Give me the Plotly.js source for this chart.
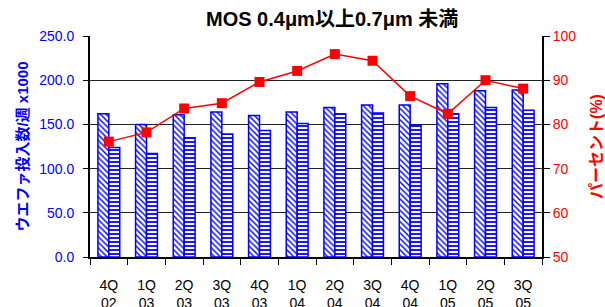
<!DOCTYPE html>
<html>
<head>
<meta charset="utf-8">
<script src="https://cdn.plot.ly/plotly-3.0.1.min.js"></script>
<style>html,body{margin:0;padding:0;background:#fff;}#chart{width:605px;height:307px;}</style>
</head>
<body>
<div id="chart"></div>
<script>
const categories = ["4Q<br>02","1Q<br>03","2Q<br>03","3Q<br>03","4Q<br>03","1Q<br>04","2Q<br>04","3Q<br>04","4Q<br>04","1Q<br>05","2Q<br>05","3Q<br>05"];
const seriesA = [162, 150, 161, 164, 160, 164, 169, 172, 172, 196, 188, 189];
const seriesB = [124, 117, 135, 139, 143, 151, 162, 163, 149, 162, 169, 166];
const percent = [76.1, 78.2, 83.6, 84.8, 89.6, 92.1, 95.9, 94.4, 86.4, 82.4, 90.0, 88.1];
const leftTicks = [0, 50, 100, 150, 200, 250];
const rightTicks = [50, 60, 70, 80, 90, 100];

const jp = '"Liberation Sans", Arial, "Noto Sans CJK JP", sans-serif';
const traces = [
  {type:'bar', x:categories, y:seriesA, name:'A',
   marker:{color:'#ffffff', line:{color:'#0000ff', width:1.5},
     pattern:{shape:'\\', fgcolor:'#0000ff', bgcolor:'#ffffff', size:4, solidity:0.35, fillmode:'replace'}}},
  {type:'bar', x:categories, y:seriesB, name:'B',
   marker:{color:'#ffffff', line:{color:'#0000ff', width:1.5},
     pattern:{shape:'-', fgcolor:'#0000ff', bgcolor:'#ffffff', size:4, solidity:0.45, fillmode:'replace'}}},
  {type:'scatter', mode:'lines+markers', x:categories, y:percent, yaxis:'y2', name:'%',
   line:{color:'#ff0000', width:1.5}, marker:{symbol:'square', size:10, color:'#ff0000'}}
];
const layout = {
  width:605, height:307,
  margin:{l:90, r:63, t:36, b:50, pad:0, autoexpand:false},
  paper_bgcolor:'#fff', plot_bgcolor:'#fff',
  showlegend:false,
  barmode:'group', bargap:0.42, bargroupgap:0,
  font:{family:jp, size:14, color:'#000'},
  title:{text:'<b>MOS 0.4μm以上0.7μm 未満</b>', x:0.549, xanchor:'center', y:0.938, yanchor:'middle',
         font:{family:jp, size:20, color:'#000'}},
  xaxis:{type:'category', range:[-0.5, categories.length - 0.5], automargin:false, showline:true, linecolor:'#000', linewidth:2,
         ticks:'outside', tickson:'boundaries',
         ticklen:6, tickcolor:'#000', tickwidth:1, tickfont:{size:14, color:'#000'}, showgrid:false,
         ticklabelstandoff:14},
  yaxis:{range:[0,250], automargin:false, tickvals:leftTicks, ticktext:leftTicks.map(v=>v.toFixed(1)),
         showline:true, linecolor:'#000', linewidth:2, ticks:'outside', ticklen:5, tickcolor:'#000',
         showgrid:true, gridcolor:'#222', gridwidth:1, zeroline:false,
         tickfont:{size:14, color:'#0000ff'}, ticklabelstandoff:6,
         title:{text:'<b>ウエファ投入数/週 x1000</b>', font:{size:15, color:'#0000ff'}, standoff:7}},
  yaxis2:{range:[50,100], automargin:false, tickvals:rightTicks, overlaying:'y', side:'right',
         showline:true, linecolor:'#000', linewidth:2, ticks:'outside', ticklen:6, tickcolor:'#000',
         showgrid:false, zeroline:false,
         tickfont:{size:14, color:'#ff0000'},
         title:{text:'<b>パーセント(%)</b>', font:{size:16, color:'#ff0000'}, standoff:16}}
};
Plotly.newPlot('chart', traces, layout, {staticPlot:true, displayModeBar:false});
</script>
</body>
</html>
